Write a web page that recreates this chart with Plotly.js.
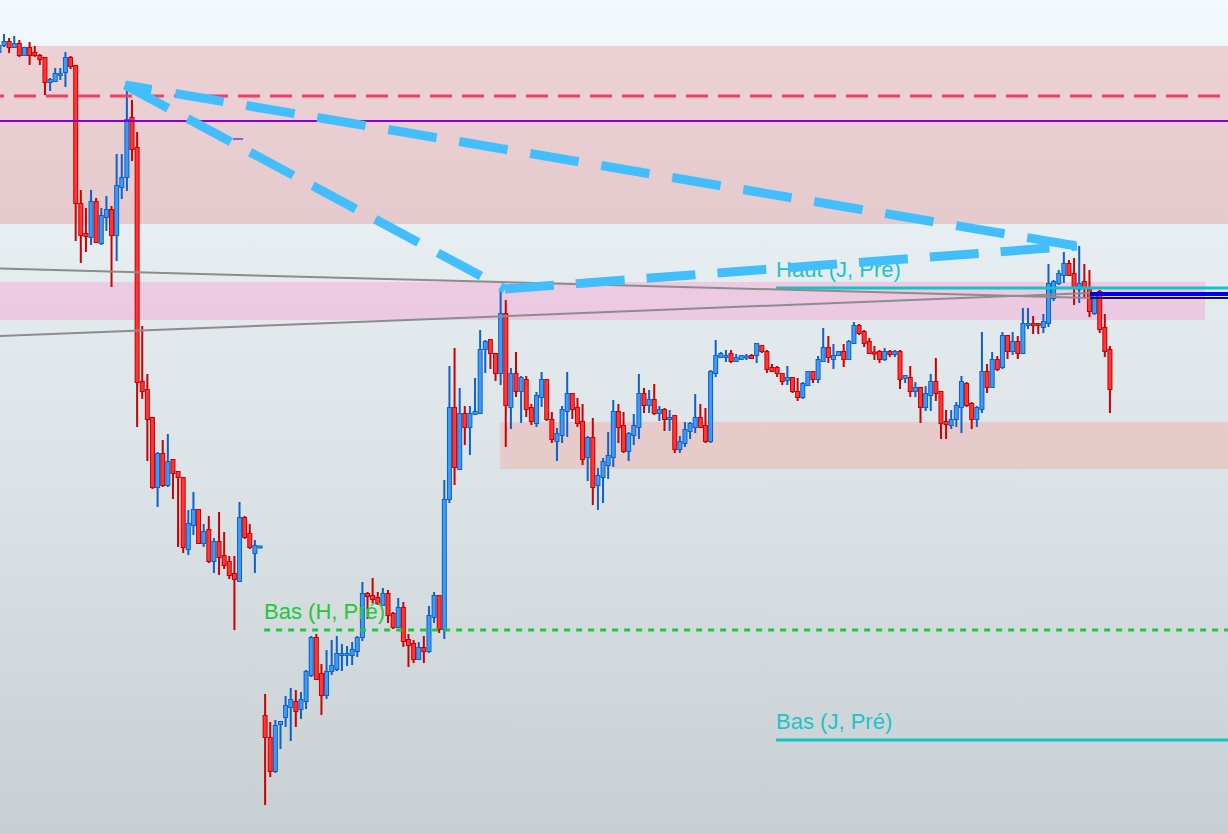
<!DOCTYPE html>
<html>
<head>
<meta charset="utf-8">
<script src="https://cdn.plot.ly/plotly-3.0.1.min.js"></script>
<style>
  html, body { margin: 0; padding: 0; }
  body { width: 1228px; height: 834px; overflow: hidden;
         background: linear-gradient(to bottom, #f3fafd 0%, #e4ebee 35%, #dbe2e5 60%, #c8cfd2 100%); }
  #chart { width: 1228px; height: 834px; }
</style>
</head>
<body>
<div id="chart"></div>
<script>
// ---- candle data (one entry per bar, oldest first) ----
const openP = [
782,789,792,787,790,779,786,781,778,776,
752,753,759,762,776,768,630,600,597,632,
591,617,624,599,647,657,716,686,452,444,
416,347,380,349,374,362,356,285,309,324,
291,304,273,292,278,272,260,253,316,300,
281,286.5,118,96,63,110,117,127,132,125,
133,159,196,160,139,163,165,179,179,179,
183,197,240,238,236,229,240,220,207,226,
194,190,175,186,183,217,238,205,335,426,
365,420,407,420,421,485,494,480,461,520,
427,460,443,454,426,411,437,454,414,393,
399,423,440,426,412,377,396,349,357,369,
377,422,408,383,399,407,440,429,434,421,
424,415,418,385,391,403,407,416,408,393,
461,477,477,480,473,475,476.5,478,479,488,
482,466,466,460,454,456,442,437,449,462,
455,473,486,475,479,482,475,491,508,502,
492,481.5,482,475,482,480,482,456,456,443,
446,427,439,452,442,412,409,415,427,450,
430,415,425,462,447,474,467,498,483,492,
481,509,510,510,507,511,536,551,559,570,
560,545,552,544,521,542,506,484
];
const highP = [
791,800,796,798,794,787,792,788,780,776,
756,766,766,782,778,768,644,626,644,636,
626,638,628,680,680,751,734,702,508,460,
416,382,394,400,374,362,356,324,342,324,
310,318,296,322,302,278,278,332,318,310,
294,287.5,140,112,114,112,138,146,144,142,
164,198,200,170,184,194,198,190,188,192,
198,252,242,256,242,246,244,222,236,232,
200,194,192,198,228,242,238,354,468,486,
446,428,428,456,504,494,494,480,546,534,
466,482,458,458,430,442,462,454,422,406,
428,462,440,436,430,398,416,366,376,402,
434,430,422,402,420,460,446,444,450,428,
426,424,418,398,412,412,440,430,426,464,
494,482,484,484,480,478,480,480,490,488,
484,470,468,460,468,456,456,452,462,462,
478,506,498,490,482,490,494,512,510,504,
496,488,484,486,484,484,484,458,468,452,
446,448,460,476,442,424,424,432,458,452,
432,428,502,470,482,478,502,498,502,498,
526,526,518,510,520,570,554,564,582,574,
576,588,570,564,542,544,520,488
];
const lowP = [
777,787,781,786,777,779,769,777,769,739,
743,753,754,747,765,593,571,582,589,591,
589,603,547,573,635,643,673,407,435,373,
345,327,347,347,335,287,281,279,299,291,
287,271,261,259,265,255,204,253,295,285,
261,286.5,29,57,61,85,107,93,107,115,
125,157,155,119,135,159,163,163,168,169,
177,193,215,231,229,229,211,205,207,187,
167,171,175,171,181,211,201,195,331,349,
365,389,379,419,421,461,465,453,449,387,
405,437,411,417,409,407,427,413,391,373,
391,397,415,407,369,353,329,324,331,355,
367,391,381,373,389,395,421,421,419,413,
403,403,381,381,387,395,401,407,391,391,
457,477,472,471,473,475,474,475,471,481,
461,463,457,449,449,441,433,435,449,451,
451,473,471,465,479,467,475,491,499,487,
481,474,471,473,477,477,445,451,437,437,
411,423,423,433,395,395,405,407,401,427,
405,407,421,441,447,463,465,475,479,475,
481,505,500,500,501,507,533,549,551,559,
529,531,537,517,519,501,477,421
];
const closeP = [
788,792,787,790,779,786,779,779,775,752,
754,760,760,776,768,631,599,598,632,592,
618,624,599,648,656,714,685,452,443,415,
347,380,349,372,361,357,287,310,324,291,
302,273,292,277,269,259,255,316,297,287,
288,287.5,97,63,108,112,128,134,123,134,
162,196,155,139,162,168,180,180,180,184,
196,240,238,235,231,240,219,207,226,193,
189,175,186,183,218,238,205,334,426,367,
420,407,420,422,484,492,481,461,520,429,
460,443,456,425,413,438,454,415,395,400,
424,440,425,411,375,396,347,358,372,378,
422,407,383,400,408,440,429,434,421,424,
415,416,385,392,404,410,416,407,393,462,
478,480,478,473,476,478,477.5,476,490,483,
465,463,461,453,456,443,437,450,462,455,
474,486,477,478,482,475,492,508,501,491,
481,480.5,475,482,480,482,455,458,443,446,
427,440,452,441,411,410,414,428,452,429,
415,426,462,447,474,465,498,483,492,481,
510,510,509,509,512,550,552,560,570,559,
546,550,547,523,538,505,483,445
];

// ---- levels / zones (price units) ----
const levelNames  = ["Haut (J, Pré)", "Bas (J, Pré)", "Bas (H, Pré)"];
const levelValues = [546, 94, 204];
const levelStartBar = [151.8, 151.8, 51.8];
const redDashLevel = 738;
const purpleLevel = 713;
const topZone = [610, 788];
const pinkZone = [514, 552];
const lowerZone = [365, 412];
// trend lines: [bar, price]
const trendA = [24.63, 749];
const trendB = [98.85, 545];
const trendC = [210.57, 588];
const greyLine1 = [[0.2, 565.5], [213.1, 536]];
const greyLine2 = [[0.2, 498], [213.1, 541]];
const blueLevel = 540;
const navyLevel = 536;
const markLevel = 695;

const bars = openP.map((_, k) => k);
const X0 = 0.219, X1 = 240.06;

const upFill = '#3d9bf6', upLine = '#0b62c8';
const dnFill = '#ff3636', dnLine = '#cc0000';

// outline + wicks
const candleOutline = {
  type: 'candlestick',
  x: bars, open: openP, high: highP, low: lowP, close: closeP,
  increasing: { line: { color: upLine, width: 2 }, fillcolor: upFill },
  decreasing: { line: { color: dnLine, width: 2 }, fillcolor: dnFill },
  whiskerwidth: 0, hoverinfo: 'skip', showlegend: false
};
// body fill on top (thins the outline to the outer half)
const candleFill = {
  type: 'candlestick',
  x: bars, open: openP, high: highP, low: lowP, close: closeP,
  increasing: { line: { color: upFill, width: 0 }, fillcolor: upFill },
  decreasing: { line: { color: dnFill, width: 0 }, fillcolor: dnFill },
  whiskerwidth: 0, hoverinfo: 'skip', showlegend: false
};

const labelColors = ['#1cc4c8', '#1cc4c8', '#1ec83a'];
const labelTraces = levelNames.map((name, j) => ({
  type: 'scatter', mode: 'text',
  x: [levelStartBar[j]], y: [levelValues[j] + 6],
  text: [name], textposition: 'top right',
  textfont: { family: 'Liberation Sans, Arial, sans-serif', size: 22, color: labelColors[j] },
  hoverinfo: 'skip', showlegend: false, cliponaxis: false
}));

// dash pattern helpers
function dashPattern(first, gapFirst, dash, gap, reps) {
  const parts = [first + 'px', gapFirst + 'px'];
  for (let r = 0; r < reps; r++) { parts.push(dash + 'px', gap + 'px'); }
  return parts.join(',');
}
const dashAC = dashPattern(27, 24, 49, 23, 16);
const dashStd = '49px,22px';

const shapes = [
  // zones
  { type: 'rect', xref: 'x', yref: 'y', x0: X0 - 5, x1: X1 + 5, y0: topZone[0], y1: topZone[1],
    fillcolor: 'rgba(218,48,48,0.19)', line: { width: 0 }, layer: 'below' },
  { type: 'rect', xref: 'x', yref: 'y', x0: X0 - 5, x1: 235.57, y0: pinkZone[0], y1: pinkZone[1],
    fillcolor: 'rgba(255,130,200,0.30)', line: { width: 0 }, layer: 'below' },
  { type: 'rect', xref: 'x', yref: 'y', x0: 97.88, x1: X1 + 5, y0: lowerZone[0], y1: lowerZone[1],
    fillcolor: 'rgba(255,128,110,0.25)', line: { width: 0 }, layer: 'below' },
  // horizontal levels
  { type: 'line', xref: 'x', yref: 'y', x0: -3.3, x1: X1 + 5, y0: redDashLevel, y1: redDashLevel,
    line: { color: '#ef3f68', width: 3, dash: '22px,10px' }, layer: 'above' },
  { type: 'line', xref: 'x', yref: 'y', x0: X0 - 5, x1: X1 + 5, y0: purpleLevel, y1: purpleLevel,
    line: { color: '#8a00c8', width: 2 }, layer: 'above' },
  { type: 'line', xref: 'x', yref: 'y', x0: levelStartBar[0], x1: X1 + 5, y0: levelValues[0], y1: levelValues[0],
    line: { color: '#12c3c9', width: 3 }, layer: 'above' },
  { type: 'line', xref: 'x', yref: 'y', x0: levelStartBar[1], x1: X1 + 5, y0: levelValues[1], y1: levelValues[1],
    line: { color: '#12c3c9', width: 3 }, layer: 'above' },
  { type: 'line', xref: 'x', yref: 'y', x0: levelStartBar[2], x1: X1 + 5, y0: levelValues[2], y1: levelValues[2],
    line: { color: '#1ec83a', width: 3, dash: '6px,6px' }, layer: 'above' },
  // grey trend lines
  { type: 'line', xref: 'x', yref: 'y', x0: greyLine1[0][0], y0: greyLine1[0][1], x1: greyLine1[1][0], y1: greyLine1[1][1],
    line: { color: '#8c8c8c', width: 2 }, layer: 'above' },
  { type: 'line', xref: 'x', yref: 'y', x0: greyLine2[0][0], y0: greyLine2[0][1], x1: greyLine2[1][0], y1: greyLine2[1][1],
    line: { color: '#8c8c8c', width: 2 }, layer: 'above' },
  // blue / navy levels on the right
  { type: 'line', xref: 'x', yref: 'y', x0: 213.1, x1: X1 + 5, y0: blueLevel, y1: blueLevel,
    line: { color: '#0000f0', width: 4 }, layer: 'above' },
  { type: 'line', xref: 'x', yref: 'y', x0: 213.1, x1: X1 + 5, y0: navyLevel, y1: navyLevel,
    line: { color: '#0a0a78', width: 2 }, layer: 'above' },
  // small mark
  { type: 'line', xref: 'x', yref: 'y', x0: 45.7, x1: 47.7, y0: markLevel, y1: markLevel,
    line: { color: '#1010c0', width: 1 }, layer: 'above' },
  // light-blue dashed triangle
  { type: 'line', xref: 'x', yref: 'y', x0: trendA[0], y0: trendA[1], x1: trendC[0], y1: trendC[1],
    line: { color: '#42befd', width: 9, dash: dashAC }, layer: 'above' },
  { type: 'line', xref: 'x', yref: 'y', x0: trendA[0], y0: trendA[1], x1: trendB[0], y1: trendB[1],
    line: { color: '#42befd', width: 9, dash: dashStd }, layer: 'above' },
  { type: 'line', xref: 'x', yref: 'y', x0: trendB[0], y0: trendB[1], x1: trendC[0], y1: trendC[1],
    line: { color: '#42befd', width: 9, dash: dashStd }, layer: 'above' }
];

const layout = {
  width: 1228, height: 834,
  margin: { l: 0, r: 0, t: 0, b: 0, pad: 0 },
  paper_bgcolor: 'rgba(0,0,0,0)',
  plot_bgcolor: 'rgba(0,0,0,0)',
  showlegend: false,
  hovermode: false,
  boxmode: 'overlay',
  boxgap: 0.25,
  boxgroupgap: 0.22,
  xaxis: { range: [X0, X1], visible: false, showgrid: false, zeroline: false, rangeslider: { visible: false }, fixedrange: true },
  yaxis: { range: [0, 834], visible: false, showgrid: false, zeroline: false, fixedrange: true },
  shapes: shapes
};

Plotly.newPlot('chart', [candleOutline, candleFill].concat(labelTraces), layout, { staticPlot: true, displayModeBar: false });
</script>
</body>
</html>
